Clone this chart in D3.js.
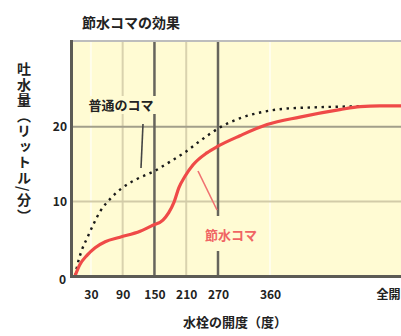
<!DOCTYPE html>
<html><head><meta charset="utf-8">
<script src="https://cdn.jsdelivr.net/npm/d3@7"></script>
<style>
html,body{margin:0;padding:0;background:#fff;}
svg{display:block;font-family:"Noto Sans CJK JP","Noto Sans",sans-serif;}
</style></head>
<body><svg id="c" width="401" height="336"></svg>
<script>
// ---- data ----
const title = "節水コマの効果";
const xLabel = "水栓の開度（度）";
const yLabel = "吐水量（リットル/分）";
const xTickValues = [30, 90, 150, 210, 270, 360, 540];
const xTickLabels = ["30", "90", "150", "210", "270", "360", "全開"];
const yTickValues = [0, 10, 20];
const darkGridX = [150, 270];
const tanGridX = [90, 210];
const faintGridX = [30, 360];
const darkGridY = [20];
const tanGridY = [10];
// 普通のコマ (ordinary)
const normalX = [0, 6, 13, 23, 34, 47, 66, 89, 117, 151, 179, 208, 236, 273, 310, 348, 379, 423, 463, 493];
const normalY = [0, 1.9, 3.5, 5.1, 6.8, 8.6, 10.3, 11.8, 13.0, 14.1, 15.3, 16.6, 18.1, 19.9, 21.2, 22.0, 22.4, 22.6, 22.7, 22.75];
// 節水コマ (water saving)
const saveX = [0, 9, 23, 38, 57, 85, 123, 147, 166, 177, 187, 196, 208, 223, 249, 270, 308, 355, 404, 463, 493, 522, 553];
const saveY = [0, 1.5, 2.8, 3.8, 4.6, 5.2, 6.0, 6.8, 7.5, 8.5, 9.9, 11.8, 13.4, 14.9, 16.5, 17.4, 18.8, 20.3, 21.3, 22.3, 22.7, 22.8, 22.8];

// ---- layout ----
const svg = d3.select("#c");
const L = 73, R = 401, T = 42, B = 275;
const x = d3.scaleLinear().domain([0, 270, 360, 540, 553]).range([75, 218, 270, 392, 401]);
const y = d3.scaleLinear().domain([0, 31.5]).range([276, 41]);

svg.append("rect").attr("x", L).attr("y", T).attr("width", R - L).attr("height", B - T).attr("fill", "#fffbd3");

const g = svg.append("g");
faintGridX.forEach(v => g.append("line").attr("x1", x(v)).attr("x2", x(v)).attr("y1", T).attr("y2", B)
  .attr("stroke", "#fffdec").attr("stroke-width", 2));
tanGridX.forEach(v => g.append("line").attr("x1", x(v)).attr("x2", x(v)).attr("y1", T).attr("y2", B)
  .attr("stroke", "#d9d2ae").attr("stroke-width", 2));
tanGridY.forEach(v => g.append("line").attr("x1", L).attr("x2", R).attr("y1", y(v)).attr("y2", y(v))
  .attr("stroke", "#d2cba8").attr("stroke-width", 2));
darkGridY.forEach(v => g.append("line").attr("x1", L).attr("x2", R).attr("y1", y(v)).attr("y2", y(v))
  .attr("stroke", "#a29f8a").attr("stroke-width", 2));
darkGridX.forEach(v => g.append("line").attr("x1", x(v)).attr("x2", x(v)).attr("y1", T).attr("y2", B)
  .attr("stroke", "#66645c").attr("stroke-width", 2.5));

// curves
const lineN = d3.line().x(d => x(d[0])).y(d => y(d[1])).curve(d3.curveMonotoneX);
svg.append("path").datum(normalX.map((v, i) => [v, normalY[i]])).attr("d", lineN)
  .attr("fill", "none").attr("stroke", "#1a1a1a").attr("stroke-width", 2.4).attr("stroke-dasharray", "2.4,4.6");
svg.append("path").datum(saveX.map((v, i) => [v, saveY[i]])).attr("d", lineN)
  .attr("fill", "none").attr("stroke", "#ef4a48").attr("stroke-width", 3.2);

// annotations
const bg = "#fffbd3";
svg.append("rect").attr("x", 86).attr("y", 96).attr("width", 70).attr("height", 18).attr("fill", bg);
svg.append("text").attr("x", 121).attr("y", 110).attr("text-anchor", "middle").attr("font-size", 13)
  .attr("font-weight", "bold").attr("fill", "#222").text("普通のコマ");
svg.append("line").attr("x1", 143).attr("y1", 124).attr("x2", 141).attr("y2", 168).attr("stroke", "#444").attr("stroke-width", 1.6);
svg.append("rect").attr("x", 203).attr("y", 216).attr("width", 54).attr("height", 35).attr("fill", bg);
svg.append("text").attr("x", 231).attr("y", 240).attr("text-anchor", "middle").attr("font-size", 13)
  .attr("font-weight", "bold").attr("fill", "#f06464").text("節水コマ");
svg.append("line").attr("x1", 198).attr("y1", 171).attr("x2", 217).attr("y2", 210).attr("stroke", "#f07070").attr("stroke-width", 1.6);

// axes frame
svg.append("line").attr("x1", 70).attr("x2", R).attr("y1", 41).attr("y2", 41).attr("stroke", "#bdbdbd").attr("stroke-width", 2);
svg.append("line").attr("x1", 71.5).attr("x2", 71.5).attr("y1", 40).attr("y2", 278).attr("stroke", "#5c5b55").attr("stroke-width", 3);
svg.append("line").attr("x1", 70).attr("x2", R).attr("y1", 276.5).attr("y2", 276.5).attr("stroke", "#5c5b55").attr("stroke-width", 3);

// tick labels via axes
const xAxis = d3.axisBottom(x).tickValues(xTickValues).tickFormat((d, i) => xTickLabels[i]).tickSize(0).tickPadding(0);
const xa = svg.append("g").attr("transform", "translate(0,290)").call(xAxis);
xa.select(".domain").remove();
xa.selectAll("text").attr("font-size", 12).attr("font-weight", "bold").attr("fill", "#222")
  .attr("font-family", "Noto Sans CJK JP").attr("dy", "0.71em");
xa.selectAll(".tick").filter(d => d === 540).select("text").attr("text-anchor", "end").attr("x", 8);
const yAxis = d3.axisLeft(y).tickValues(yTickValues).tickSize(0).tickPadding(0);
const ya = svg.append("g").attr("transform", "translate(67,0)").call(yAxis);
ya.select(".domain").remove();
ya.selectAll("text").attr("font-size", 12).attr("font-weight", "bold").attr("fill", "#222")
  .attr("font-family", "Noto Sans CJK JP");
ya.selectAll(".tick").filter(d => d === 0).select("text").attr("dy", "0.6em").attr("x", -1);

// titles
svg.append("text").attr("x", 82).attr("y", 28).attr("font-size", 14).attr("font-weight", "bold").attr("fill", "#222").text(title);
svg.append("text").attr("x", 235).attr("y", 327).attr("text-anchor", "middle").attr("font-size", 13)
  .attr("font-weight", "bold").attr("fill", "#222").text(xLabel);
svg.append("text").attr("x", 24).attr("y", 62).attr("font-size", 14).attr("font-weight", "bold").attr("fill", "#222")
  .attr("letter-spacing", 1.5).style("writing-mode", "vertical-rl").text(yLabel);
</script></body></html>
